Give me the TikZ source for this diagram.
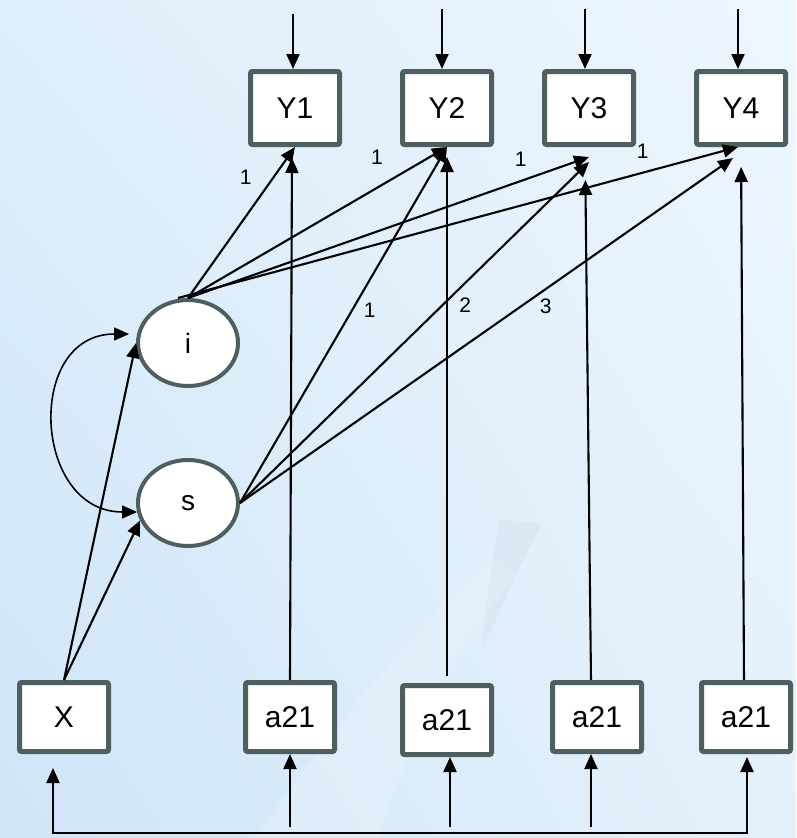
\documentclass[tikz,border=0pt]{standalone}
\usepackage{fontspec}
\setmainfont{Liberation Sans}
\usetikzlibrary{arrows.meta,shapes,shadings,positioning}
\definecolor{frame}{HTML}{4E5F5F}
\definecolor{bgul}{RGB}{222,238,251}
\definecolor{bgur}{RGB}{238,246,253}
\definecolor{bgll}{RGB}{207,229,248}
\definecolor{bglr}{RGB}{228,241,251}

\begin{document}
\begin{tikzpicture}[x = 1pt, y = -1pt, >= {Triangle[length = 15pt, width = 13pt]}, ->, line width = 2.1pt, on grid,
  obs/.style = {draw = frame, line width = 5pt, fill = white, rounded corners = 2pt, minimum width = 89pt, minimum height = 69pt, inner sep = 0pt, font = \fontsize{30}{36}\selectfont},
  lat/.style = {ellipse, draw = frame, line width = 4pt, fill = white, minimum width = 100pt, minimum height = 86pt, inner sep = 0pt, font = \fontsize{28}{34}\selectfont},
  coef/.style = {font = \fontsize{21}{24}\selectfont, inner sep = 0pt}]

% backdrop
\useasboundingbox (0,0) rectangle (796,838);
\shade[upper left = bgul, upper right = bgur, lower left = bgll, lower right = bglr] (0,0) rectangle (796,838);
\fill[white, opacity = .16] (255,838) .. controls (330,730) and (420,620) .. (495,560) -- (515,575) .. controls (450,660) and (400,760) .. (380,838) -- cycle;
\fill[frame, opacity = .035] (500,519) -- (542,524) .. controls (520,565) and (500,610) .. (482,650) .. controls (486,600) and (492,560) .. cycle;

% outcomes
\node[obs, minimum height = 73pt] (Y1) at (295,108) {Y1};
\node[obs, minimum height = 73pt, right = 152pt of Y1] (Y2) {Y2};
\node[obs, minimum height = 73pt, right = 142pt of Y2] (Y3) {Y3};
\node[obs, minimum height = 73pt, right = 152pt of Y3] (Y4) {Y4};

% growth factors
\node[lat] (i) at (188,343) {i};
\node[lat, below = 160pt of i] (s) {s};

% covariates
\node[obs] (X) at (64,717) {X};
\node[obs] (a1) at (290,717) {a21};
\node[obs, right = 157pt of a1, yshift = -3pt] (a2) {a21};
\node[obs, right = 307pt of a1] (a3) {a21};
\node[obs, right = 456pt of a1] (a4) {a21};

% residuals
\coordinate[above = 55pt of Y1.north] (e1);
\coordinate[above = 60pt of Y2.north] (e2);
\coordinate[above = 60pt of Y3.north] (e3);
\coordinate[above = 60pt of Y4.north] (e4);
\draw ([xshift = -2pt]e1) -- ([xshift = -2pt]Y1.north);
\draw ([xshift = -5pt]e2) -- ([xshift = -5pt]Y2.north);
\draw ([xshift = -4pt]e3) -- ([xshift = -4pt]Y3.north);
\draw ([xshift = -3pt]e4) -- ([xshift = -3pt]Y4.north);

% loadings (labels sit on grid, so the shift is centre to centre)
\path (i.north) edge node[coef, pos = .8, left = 21pt] {1} (Y1.south)
  edge node[coef, pos = .73, above = 22pt] {1} (Y2.south)
  edge node[coef, pos = .83, above = 13pt] {1} ([yshift = -10pt]Y3.south);
\path ([xshift = -10pt]i.north) edge node[coef, pos = .83, above = 13pt] {1} ([xshift = -3pt]Y4.south);
\path (s.east) edge node[coef, pos = .54, right = 11pt] {1} (Y2.south)
  edge node[coef, pos = .58, right = 16pt] {2} ([yshift = -15pt]Y3.south)
  edge node[coef, pos = .62, below = 9pt] {3} ([xshift = -8pt, yshift = -11pt]Y4.south);

% X on the growth factors
\draw (X.north) -- (i.west);
\draw (X.north) -- (s.200);
\draw[<->, line width = 1.6pt] ([xshift = -8pt]i.170) to[out = 180, in = 180, looseness = 1.5] (s.190);

% time-varying covariates
\draw[shorten >= 11pt] (a1.north) -- ([xshift = -3pt]Y1.south);
\draw[shorten <= 7pt, shorten >= 10pt] (a2.north) -- (Y2.south);
\draw[shorten >= 33pt] ([xshift = -6pt]a3.north) -- ([xshift = -4pt]Y3.south);
\draw[shorten >= 20pt] ([xshift = -2pt]a4.north) -- (Y4.south);

% common base line
\coordinate (xin) at (53,768);
\coordinate (corner) at (747,833);
\draw[<->, shorten >= 3pt] (xin) |- (corner) -- ([xshift = 1pt]a4.south);
\draw[shorten <= 6pt] (a1.south |- corner) -- (a1.south);
\draw[shorten <= 6pt] ([xshift = 3pt]a2.south |- corner) -- ([xshift = 3pt]a2.south);
\draw[shorten <= 6pt] ([xshift = -6pt]a3.south |- corner) -- ([xshift = -6pt]a3.south);
\end{tikzpicture}
\end{document}
